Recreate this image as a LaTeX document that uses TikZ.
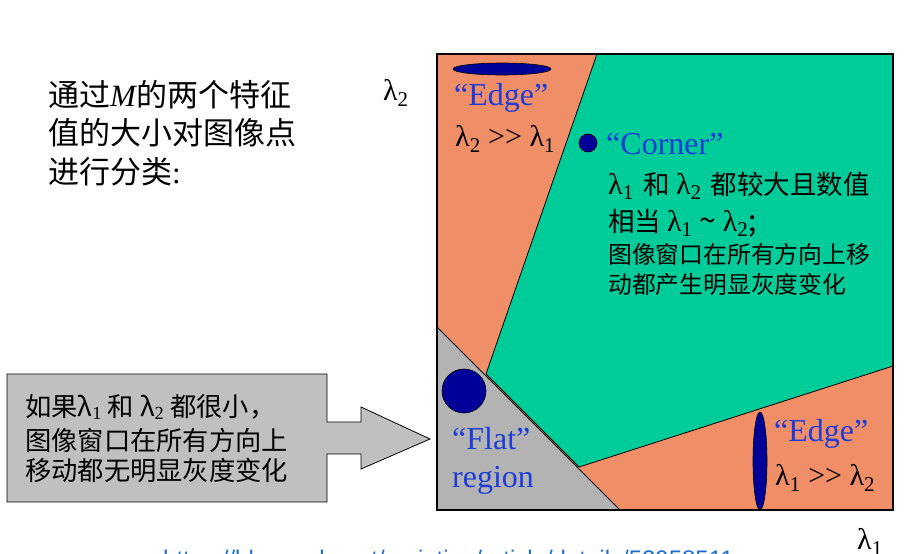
\documentclass[tikz,border=0pt]{standalone}
\usepackage{fontspec}
\usetikzlibrary{shapes.geometric}
\setmainfont{Liberation Serif}
\setsansfont{Liberation Sans}
\newfontfamily\cjk{Noto Sans CJK SC}
\definecolor{edgeorange}{RGB}{240,142,104}
\definecolor{cornergreen}{RGB}{0,204,153}
\definecolor{flatgrey}{RGB}{179,179,179}
\definecolor{boxgrey}{RGB}{192,192,192}
\definecolor{dotblue}{RGB}{0,0,153}
\definecolor{lblblue}{RGB}{30,60,215}
\definecolor{urlblue}{RGB}{30,110,210}
\newcommand\lt[1]{{\rmfamily λ\textsubscript{#1}}}
\newcommand\fs[1]{\fontsize{#1}{#1}\selectfont}
\newcommand\mygtgt{{\rmfamily >\kern0pt>}}
\tikzset{
  txt/.style={inner sep=0pt, anchor=west, align=left},
  bluelbl/.style={txt, text=lblblue, font=\rmfamily\fs{32}},
  lamlbl/.style={txt, font=\rmfamily\fs{30}},
  blob/.style={fill=dotblue, draw=black, line width=0.6pt},
  border/.style={draw=black, line width=0.8pt},
}
\begin{document}
\begin{tikzpicture}[x=1pt,y=-1pt]
\useasboundingbox (0,0) rectangle (919,554);
% regions
\fill[edgeorange] (437,54) rectangle (893,510);
\filldraw[fill=cornergreen, border] (597,54) -- (893,54) -- (893,366) -- (579,467) -- (486,374) -- cycle;
\filldraw[fill=flatgrey, border] (437,327) -- (620,510) -- (437,510) -- cycle;
\draw[black, line width=1.2pt] (437,54) rectangle (893,510);
% blobs
\node[blob, ellipse, minimum width=98pt, minimum height=12pt, inner sep=0pt] (topedge) at (502,69) {};
\node[blob, circle, minimum size=18pt, inner sep=0pt] (cornerdot) at (588,143) {};
\node[blob, circle, minimum size=44pt, inner sep=0pt] (flatdot) at (464,391) {};
\node[blob, ellipse, minimum width=14pt, minimum height=98pt, inner sep=0pt] (rightedge) at (760,461) {};
% axis labels
\node[lamlbl] (ax2) at (383,93) {\lt{2}};
\node[lamlbl] (ax1) at (857,542) {\lt{1}};
% region labels
\node[bluelbl] (edge1) at (454,98) {“Edge”};
\node[lamlbl] (edge1r) at (455,139) {\lt{2} \mygtgt{} \lt{1}};
\node[bluelbl] (corner) at (606,144) {“Corner”};
\node[txt, font=\cjk\fs{26.5}] (c1) at (608,186) {{\fs{30}\lt{1}}\hspace{4pt} 和 {\fs{30}\lt{2}}\hspace{3pt} 都较大且数值};
\node[txt, font=\cjk\fs{26.5}] (c2) at (608,223) {相当 {\fs{30}\lt{1} \textasciitilde{} \lt{2};}};
\node[txt, font=\cjk\fs{23.8}] (c3) at (608,254) {图像窗口在所有方向上移};
\node[txt, font=\cjk\fs{23.8}] (c4) at (608,284) {动都产生明显灰度变化};
\node[bluelbl] (flat1) at (452,439) {“Flat”};
\node[bluelbl] (flat2) at (452,480) {region};
\node[bluelbl] (edge2) at (774,434) {“Edge”};
\node[lamlbl] (edge2r) at (775,478) {\lt{1} \mygtgt{} \lt{2}};
% left title
\node[txt, font=\cjk\fs{31}] (t1) at (48,95) {通过{\rmfamily\itshape M}的两个特征};
\node[txt, font=\cjk\fs{31}] (t2) at (48,133) {值的大小对图像点};
\node[txt, font=\cjk\fs{31}] (t3) at (48,172) {进行分类{\rmfamily :}};
% arrow box
\filldraw[fill=boxgrey, border] (7,374) -- (327,374) -- (327,422) -- (361,422) -- (361,407) -- (430,439) -- (361,469) -- (361,454) -- (327,454) -- (327,502) -- (7,502) -- cycle;
\node[txt, font=\cjk\fs{26.3}] (b1) at (25,407) {如果λ{\rmfamily\textsubscript{1}} 和 λ{\rmfamily\textsubscript{2}} 都很小，};
\node[txt, font=\cjk\fs{26.3}] (b2) at (25,440) {图像窗口在所有方向上};
\node[txt, font=\cjk\fs{26.3}] (b3) at (25,470) {移动都无明显灰度变化};
% clipped watermark
\node[inner sep=0pt, anchor=base west, text=urlblue, font=\sffamily\fs{24}] (url) at (163,567) {https://blog.csdn.net/variation/article/details/52958511};
\end{tikzpicture}
\end{document}
